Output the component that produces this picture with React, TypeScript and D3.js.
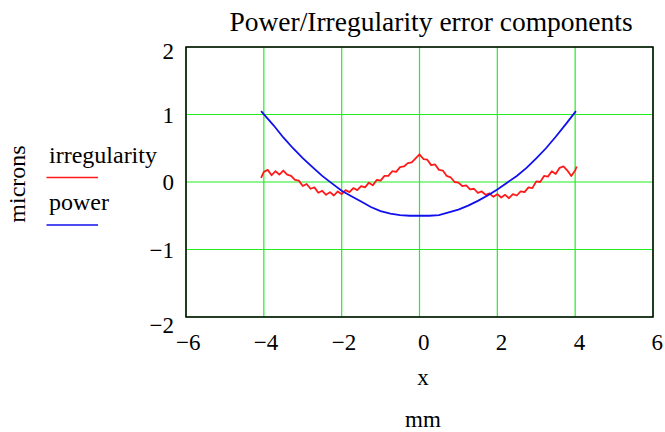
import React from 'react';
import * as d3 from 'd3';

// power component samples (mm, microns)
const powerX = [-4.07, -3.75, -3.5, -3.25, -3, -2.75, -2.5, -2.25, -2, -1.75, -1.5, -1.25, -1, -0.75, -0.5, -0.25, 0,
  0.25, 0.5, 0.75, 1, 1.25, 1.5, 1.75, 2, 2.25, 2.5, 2.75, 3, 3.25, 3.5, 3.75, 4.02];
const powerY = [1.05, 0.84, 0.66, 0.5, 0.355, 0.22, 0.09, -0.02, -0.13, -0.21, -0.29, -0.37, -0.43, -0.47, -0.49, -0.5, -0.5,
  -0.5, -0.49, -0.45, -0.41, -0.35, -0.28, -0.2, -0.11, -0.01, 0.09, 0.21, 0.35, 0.5, 0.67, 0.85, 1.05];

// irregularity component samples
const irrX = [-4.07, -4.0, -3.9, -3.8, -3.7, -3.6, -3.5, -3.4, -3.3, -3.2, -3.1, -3.0, -2.9, -2.8, -2.7, -2.6, -2.5,
  -2.4, -2.3, -2.2, -2.1, -2.0, -1.9, -1.8, -1.7, -1.6, -1.5, -1.4, -1.3, -1.2, -1.1, -1.0, -0.9, -0.8, -0.7, -0.6,
  -0.5, -0.4, -0.3, -0.2, -0.1, 0.0, 0.1, 0.2, 0.3, 0.4, 0.5, 0.6, 0.7, 0.8, 0.9, 1.0, 1.1, 1.2, 1.3, 1.4, 1.5, 1.6,
  1.7, 1.8, 1.9, 2.0, 2.1, 2.2, 2.3, 2.4, 2.5, 2.6, 2.7, 2.8, 2.9, 3.0, 3.1, 3.2, 3.3, 3.4, 3.5, 3.6, 3.7, 3.8, 3.9,
  4.0, 4.04];
const irrY = [0.06, 0.15, 0.18, 0.1, 0.16, 0.11, 0.17, 0.11, 0.09, 0.03, 0.02, -0.06, -0.03, -0.1, -0.08, -0.16, -0.13,
  -0.19, -0.15, -0.2, -0.14, -0.18, -0.12, -0.15, -0.09, -0.12, -0.06, -0.08, -0.01, -0.05, 0.03, 0.02, 0.09, 0.09,
  0.16, 0.15, 0.22, 0.23, 0.28, 0.29, 0.35, 0.41, 0.34, 0.33, 0.25, 0.26, 0.18, 0.17, 0.09, 0.07, 0.0, -0.01, -0.06,
  -0.05, -0.11, -0.1, -0.16, -0.14, -0.19, -0.17, -0.22, -0.18, -0.23, -0.19, -0.24, -0.18, -0.2, -0.14, -0.15, -0.08,
  -0.09, 0.01, 0.0, 0.09, 0.08, 0.16, 0.12, 0.21, 0.23, 0.17, 0.09, 0.17, 0.23];

const xTicks = [-6, -4, -2, 0, 2, 4, 6];
const yTicks = [2, 1, 0, -1, -2];
const legendItems = ['irregularity', 'power'];
const legendColors = ['#ff1a1a', '#1010ee'];

const font = '"Liberation Serif", "Times New Roman", serif';
const gridColor = '#22ee22';

export default function App() {
  const width = 665;
  const height = 432;
  const left = 186, right = 653, top = 47, bottom = 317;

  const x = d3.scaleLinear().domain([-6, 6]).range([left, right]);
  const y = d3.scaleLinear().domain([-2, 2]).range([bottom, top]);

  const line = d3.line<[number, number]>()
    .x((d) => x(d[0]))
    .y((d) => y(d[1]));

  const powerPts = powerX.map((v, i) => [v, powerY[i]] as [number, number]);
  const irrPts = irrX.map((v, i) => [v, irrY[i]] as [number, number]);

  const fmt = (v: number) => (v < 0 ? '\u2212' + Math.abs(v) : String(v));

  return (
    <svg width={width} height={height} style={{ position: 'absolute', left: 0, top: 0, background: '#fff' }}
      fontFamily={font}>
      <text x={431} y={31} fontSize={27.5} textAnchor="middle">Power/Irregularity error components</text>

      {/* grid */}
      {xTicks.map((t) => (
        <line key={'gx' + t} x1={x(t)} x2={x(t)} y1={top} y2={bottom} stroke={gridColor} strokeWidth={1.2} />
      ))}
      {yTicks.map((t) => (
        <line key={'gy' + t} x1={left} x2={right} y1={y(t)} y2={y(t)} stroke={gridColor} strokeWidth={1.2} />
      ))}

      <path d={line(irrPts) || ''} fill="none" stroke="#ff1a1a" strokeWidth={1.8} strokeLinejoin="round" />
      <path d={line(powerPts) || ''} fill="none" stroke="#1010ee" strokeWidth={1.8} />

      <rect x={left} y={top} width={right - left} height={bottom - top} fill="none" stroke="#000" strokeWidth={1.5} />

      {/* y tick labels */}
      {yTicks.map((t, i) => {
        const off = i === 0 ? 12 : i === yTicks.length - 1 ? 16 : 8;
        return (
          <text key={'yl' + t} x={174} y={y(t) + off} fontSize={23} textAnchor="end">{fmt(t)}</text>
        );
      })}

      {/* x tick labels: digit starts near tick, minus hangs left */}
      {xTicks.map((t) => {
        const dx = t < 0 ? 3 : -1.5;
        return (
          <g key={'xl' + t}>
            <text x={x(t) + dx} y={350} fontSize={23} textAnchor="start">{Math.abs(t)}</text>
            {t < 0 && <text x={x(t) + dx} y={350} fontSize={23} textAnchor="end">{'\u2212'}</text>}
          </g>
        );
      })}

      <text x={423} y={385} fontSize={23} textAnchor="middle">x</text>
      <text x={423} y={427} fontSize={23} textAnchor="middle">mm</text>

      <text transform={`translate(25, 184) rotate(-90)`} fontSize={24} textAnchor="middle">microns</text>

      {legendItems.map((name, i) => (
        <g key={name}>
          <text x={49} y={163 + i * 47} fontSize={24}>{name}</text>
          <line x1={46.5} x2={98} y1={177.5 + i * 47.5} y2={177.5 + i * 47.5} stroke={legendColors[i]} strokeWidth={1.6} />
        </g>
      ))}
    </svg>
  );
}
